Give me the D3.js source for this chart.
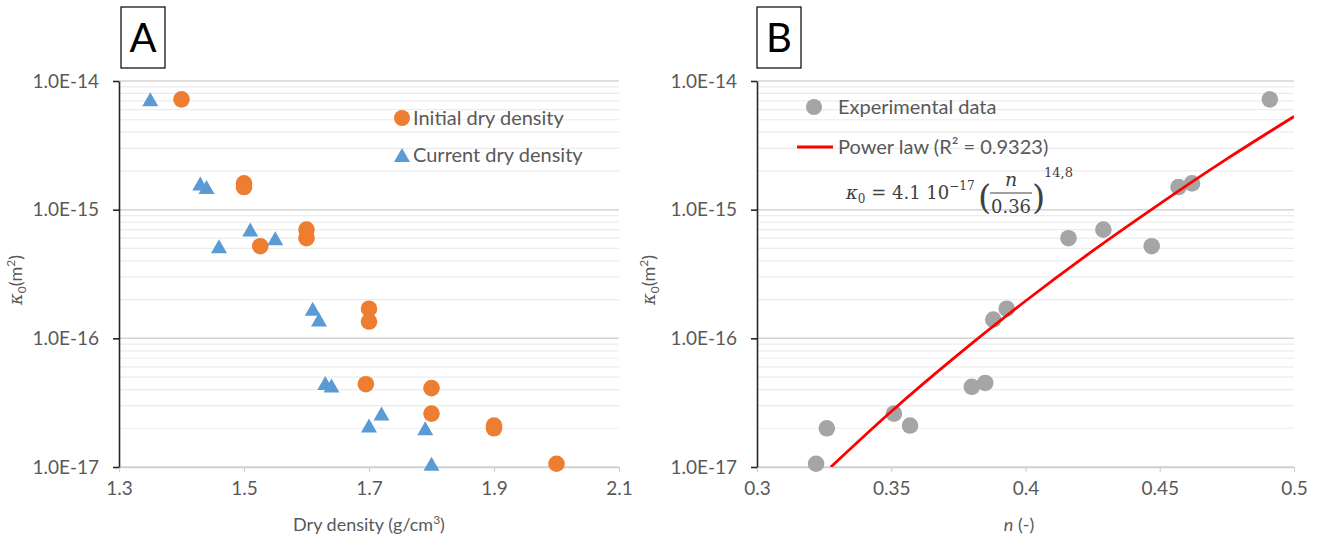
<!DOCTYPE html>
<html><head><meta charset="utf-8">
<script src="https://cdn.jsdelivr.net/npm/d3@7"></script>
<style>
body{margin:0;background:#fff;}
svg{display:block;}
</style>
</head><body>
<svg id="c" width="1327" height="539" font-family="Lato, 'Open Sans', sans-serif"></svg>
<script>
// ---------- data ----------
const initialDensity = [1.40, 1.50, 1.50, 1.526, 1.60, 1.60, 1.70, 1.70, 1.695, 1.80, 1.80, 1.90, 1.90, 2.00];
const initialKappa   = [7.2e-15, 1.6e-15, 1.5e-15, 5.2e-16, 7.0e-16, 6.0e-16, 1.7e-16, 1.35e-16, 4.4e-17, 4.1e-17, 2.6e-17, 2.1e-17, 2.0e-17, 1.06e-17];
const currentDensity = [1.35, 1.43, 1.44, 1.46, 1.51, 1.55, 1.61, 1.62, 1.63, 1.64, 1.72, 1.70, 1.79, 1.80];
const currentKappa   = [7.2e-15, 1.6e-15, 1.5e-15, 5.2e-16, 7.0e-16, 6.0e-16, 1.7e-16, 1.4e-16, 4.5e-17, 4.3e-17, 2.6e-17, 2.1e-17, 2.0e-17, 1.06e-17];
const porosity       = [0.322, 0.326, 0.351, 0.357, 0.380, 0.385, 0.388, 0.393, 0.416, 0.429, 0.447, 0.457, 0.462, 0.491];
const porosityKappa  = [1.06e-17, 2.0e-17, 2.6e-17, 2.1e-17, 4.2e-17, 4.5e-17, 1.4e-16, 1.7e-16, 6.0e-16, 7.0e-16, 5.2e-16, 1.5e-15, 1.6e-15, 7.2e-15];
const fitN           = [0.3275, 0.35, 0.375, 0.40, 0.425, 0.45, 0.475, 0.50];
const fitKappa       = [1.0e-17, 2.7e-17, 7.5e-17, 1.95e-16, 4.78e-16, 1.11e-15, 2.48e-15, 5.3e-15];
const yTickValues    = [1e-17, 1e-16, 1e-15, 1e-14];
const yTickLabels    = ["1.0E-17", "1.0E-16", "1.0E-15", "1.0E-14"];
const xTicksA        = [1.3, 1.5, 1.7, 1.9, 2.1];
const xTickLabelsA   = ["1.3", "1.5", "1.7", "1.9", "2.1"];
const xTicksB        = [0.3, 0.35, 0.4, 0.45, 0.5];
const xTickLabelsB   = ["0.3", "0.35", "0.4", "0.45", "0.5"];
const seriesNames    = ["Initial dry density", "Current dry density", "Experimental data", "Power law (R\u00B2 = 0.9323)"];

// ---------- setup ----------
const svg = d3.select("#c");
const SANS = "Lato, 'Open Sans', sans-serif";
const MF = "'DejaVu Serif', 'Liberation Serif', serif";
const TXT = "#595959";
const ORANGE = "#ED7D31", BLUE = "#5B9BD5", GREY = "#A5A5A5", RED = "#FF0000";
const yTop = 81, yBot = 467;
const y = d3.scaleLog().domain([yTickValues[0], yTickValues[yTickValues.length-1]]).range([yBot, yTop]);
const triPath = "M0,-7L8,7L-8,7Z";

const gridVals = [];
for (let i = 0; i < yTickValues.length - 1; i++) {
  for (let m = 1; m < 10; m++) gridVals.push(yTickValues[i] * m);
}
gridVals.push(yTickValues[yTickValues.length - 1]);
const isMajor = d => yTickValues.some(t => Math.abs(t - d) / t < 1e-9);

function drawFrame(x, ticks, tickLabels, titleX, letter, boxX) {
  const [x0, x1] = x.range();
  const g = svg.append("g");
  // grid
  g.selectAll("line.grid").data(gridVals).join("line")
    .attr("x1", x0).attr("x2", x1)
    .attr("y1", d => y(d)).attr("y2", d => y(d))
    .attr("stroke", d => isMajor(d) ? "#d4d4d4" : "#ececec")
    .attr("stroke-width", d => isMajor(d) ? 1.5 : 1.2);
  // x axis
  const xa = g.append("g").attr("transform", `translate(0,${yBot})`)
    .call(d3.axisBottom(x).tickValues(ticks).tickFormat((d, i) => tickLabels[i]).tickSize(5).tickSizeOuter(0).tickPadding(10));
  xa.select(".domain").attr("stroke", "#d0d0d0").attr("stroke-width", 1.5);
  xa.selectAll(".tick line").attr("stroke", "#d0d0d0").attr("stroke-width", 1.2);
  xa.selectAll(".tick text").attr("fill", TXT).style("font-size", "19px").style("font-family", SANS);
  // y axis
  const ya = g.append("g").attr("transform", `translate(${x0},0)`)
    .call(d3.axisLeft(y).tickValues(yTickValues).tickFormat((d, i) => yTickLabels[i]).tickSize(6).tickSizeOuter(0).tickPadding(14));
  ya.select(".domain").attr("stroke", "#262626").attr("stroke-width", 1.6);
  ya.selectAll(".tick line").attr("stroke", "#262626").attr("stroke-width", 1.6);
  ya.selectAll(".tick text").attr("fill", TXT).style("font-size", "19px").style("font-family", SANS);
  // y title
  const yt = g.append("text").attr("transform", `translate(${titleX},280) rotate(-90)`)
    .attr("text-anchor", "middle").attr("fill", TXT).style("font-size", "18px").style("font-family", SANS);
  yt.append("tspan").style("font-family", MF).style("font-style", "italic").text("\u03BA");
  yt.append("tspan").style("font-size", "12px").attr("dy", 4).text("0");
  yt.append("tspan").attr("dy", -4).text("(m");
  yt.append("tspan").style("font-size", "12px").attr("dy", -7).text("2");
  yt.append("tspan").attr("dy", 7).text(")");
  // letter box
  g.append("rect").attr("x", boxX).attr("y", 7).attr("width", 44).attr("height", 61)
    .attr("fill", "#fff").attr("stroke", "#000").attr("stroke-width", 1.2);
  g.append("text").attr("x", boxX + 22).attr("y", 52).attr("text-anchor", "middle")
    .style("font-size", "40px").style("font-family", SANS).attr("fill", "#000").text(letter);
  return g;
}

// ---------- panel A ----------
const xA = d3.scaleLinear().domain([xTicksA[0], xTicksA[xTicksA.length-1]]).range([119, 619]);
const gA = drawFrame(xA, xTicksA, xTickLabelsA, 22, "A", 121);
gA.append("text").attr("x", 369).attr("y", 531).attr("text-anchor", "middle").attr("fill", TXT)
  .style("font-size", "18px").style("font-family", SANS)
  .call(t => { t.append("tspan").text("Dry density (g/cm"); t.append("tspan").style("font-size", "12px").attr("dy", -7).text("3"); t.append("tspan").attr("dy", 7).text(")"); });

gA.selectAll("path.cur").data(currentDensity).join("path")
  .attr("d", triPath).attr("fill", BLUE)
  .attr("transform", (d, i) => `translate(${xA(d)},${y(currentKappa[i])})`);
gA.selectAll("circle.ini").data(initialDensity).join("circle")
  .attr("cx", d => xA(d)).attr("cy", (d, i) => y(initialKappa[i])).attr("r", 8.3).attr("fill", ORANGE);

// legend A
gA.append("circle").attr("cx", 402).attr("cy", 118).attr("r", 8).attr("fill", ORANGE);
gA.append("text").attr("x", 413).attr("y", 118).attr("dy", "0.35em").attr("fill", TXT).style("font-size", "20px").style("font-family", SANS).text(seriesNames[0]);
gA.append("path").attr("d", triPath).attr("fill", BLUE).attr("transform", "translate(402,155)");
gA.append("text").attr("x", 413).attr("y", 155).attr("dy", "0.35em").attr("fill", TXT).style("font-size", "20px").style("font-family", SANS).text(seriesNames[1]);

// ---------- panel B ----------
const xB = d3.scaleLinear().domain([xTicksB[0], xTicksB[xTicksB.length-1]]).range([757, 1294]);
const gB = drawFrame(xB, xTicksB, xTickLabelsB, 655, "B", 757);
gB.append("text").attr("x", 1019).attr("y", 531).attr("text-anchor", "middle").attr("fill", TXT)
  .style("font-size", "18px").style("font-family", SANS)
  .call(t => { t.append("tspan").style("font-style", "italic").text("n"); t.append("tspan").text(" (-)"); });

svg.append("clipPath").attr("id", "clipB").append("rect")
  .attr("x", 757).attr("y", yTop).attr("width", 1294 - 757).attr("height", yBot - yTop);

gB.selectAll("circle.exp").data(porosity).join("circle")
  .attr("cx", d => xB(d)).attr("cy", (d, i) => y(porosityKappa[i])).attr("r", 8.3).attr("fill", GREY);

const fitLine = d3.line().x(d => xB(d)).y((d, i) => y(fitKappa[i])).curve(d3.curveMonotoneX);
gB.append("path").attr("d", fitLine(fitN)).attr("fill", "none").attr("stroke", RED).attr("stroke-width", 2.8)
  .attr("clip-path", "url(#clipB)");

// legend B
gB.append("circle").attr("cx", 814).attr("cy", 107).attr("r", 8).attr("fill", GREY);
gB.append("text").attr("x", 838).attr("y", 107).attr("dy", "0.35em").attr("fill", TXT).style("font-size", "20px").style("font-family", SANS).text(seriesNames[2]);
gB.append("line").attr("x1", 797).attr("x2", 833).attr("y1", 147).attr("y2", 147).attr("stroke", RED).attr("stroke-width", 2.8);
gB.append("text").attr("x", 838).attr("y", 147).attr("dy", "0.35em").attr("fill", TXT).style("font-size", "20px").style("font-family", SANS).text(seriesNames[3]);

// equation
const EQ = "#404040";
const eq = gB.append("g").attr("fill", EQ);
const t1 = eq.append("text").attr("x", 846).attr("y", 199).style("font-size", "18px").style("font-family", MF);
t1.append("tspan").style("font-style", "italic").text("\u03BA");
t1.append("tspan").style("font-size", "12px").attr("dy", 4).text("0");
t1.append("tspan").attr("dy", -4).text(" = 4.1 10");
t1.append("tspan").style("font-size", "12px").attr("dy", -9).text("\u221217");
eq.append("text").attr("x", 978).attr("y", 209).style("font-size", "34px").style("font-family", MF).text("(");
eq.append("text").attr("x", 1011).attr("y", 186).attr("text-anchor", "middle").style("font-size", "19px").style("font-style", "italic").style("font-family", MF).text("n");
eq.append("line").attr("x1", 990).attr("x2", 1032).attr("y1", 193).attr("y2", 193).attr("stroke", EQ).attr("stroke-width", 1);
eq.append("text").attr("x", 1011).attr("y", 213).attr("text-anchor", "middle").style("font-size", "18px").style("font-family", MF).text("0.36");
eq.append("text").attr("x", 1032).attr("y", 209).style("font-size", "34px").style("font-family", MF).text(")");
eq.append("text").attr("x", 1044).attr("y", 177).style("font-size", "13px").style("font-family", MF).text("14,8");
</script>
</body></html>
